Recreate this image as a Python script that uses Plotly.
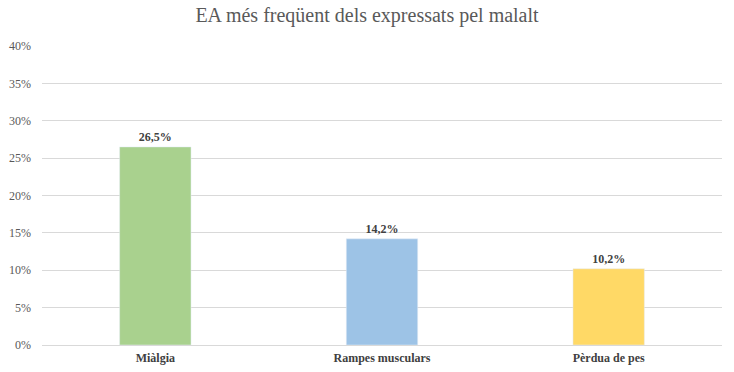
import plotly.graph_objects as go

categories = ["Miàlgia", "Rampes musculars", "Pèrdua de pes"]
values = [26.5, 14.2, 10.2]
labels = ["26,5%", "14,2%", "10,2%"]
colors = ["#A9D18E", "#9DC3E6", "#FFD966"]
tick_vals = [0, 5, 10, 15, 20, 25, 30, 35, 40]
tick_text = ["0%", "5%", "10%", "15%", "20%", "25%", "30%", "35%", "40%"]

SERIF = "Liberation Serif, Times New Roman, serif"

W, H = 734, 372

fig = go.Figure(go.Bar(
    x=categories, y=values, marker_color=colors, width=0.315,
    text=labels, textposition="outside", cliponaxis=False,
    textfont=dict(family=SERIF, size=12, color="#404040"),
))
fig.update_traces(texttemplate="<b>%{text}</b>")

fig.update_layout(
    width=W, height=H,
    margin=dict(l=42, r=12, t=46, b=27, autoexpand=False),
    paper_bgcolor="white", plot_bgcolor="white",
    title=dict(text="EA més freqüent dels expressats pel malalt", x=0.5, xanchor="center",
               yref="container", y=1 - 15 / H, yanchor="middle", automargin=False,
               font=dict(family=SERIF, size=20, color="#595959")),
    showlegend=False,
    xaxis=dict(showgrid=False, showline=True, linecolor="#d9d9d9", linewidth=1,
               automargin=False,
               tickfont=dict(family=SERIF, size=12, color="#404040"),
               ticks="", tickvals=categories, ticklabelstandoff=2,
               ticktext=["<b>" + c + "</b>" for c in categories]),
    yaxis=dict(range=[0, 40], tickvals=tick_vals, ticktext=tick_text, automargin=False,
               showgrid=True, gridcolor="#d9d9d9", gridwidth=1, zeroline=False,
               tickfont=dict(family=SERIF, size=12, color="#595959"),
               ticks="", ticklabelstandoff=10),
)

fig.write_html("out.html", config={"displayModeBar": False},
               post_script="document.body.style.margin='0';")
